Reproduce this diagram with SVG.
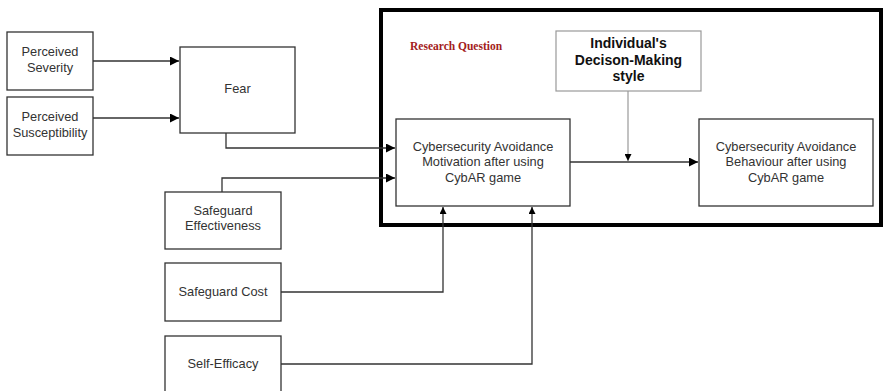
<svg xmlns="http://www.w3.org/2000/svg" width="884" height="391" viewBox="0 0 884 391">
  <style>
    .box { fill: #fff; stroke: #333; stroke-width: 1.3; }
    .gbox { fill: #fff; stroke: #999; stroke-width: 1.2; }
    .frame { fill: none; stroke: #000; stroke-width: 4; }
    .lbl { font-family: "Liberation Sans", Arial, sans-serif; font-size: 12.8px; fill: #333; text-anchor: middle; }
    .bold { font-family: "Liberation Sans", Arial, sans-serif; font-size: 14px; font-weight: bold; fill: #111; text-anchor: middle; }
    .rq { font-family: "Liberation Serif", "Times New Roman", serif; font-size: 11.5px; font-weight: bold; fill: #a32020; }
    .link { fill: none; stroke: #333; stroke-width: 1.3; }
    .glink { fill: none; stroke: #999; stroke-width: 1.2; }
  </style>
  <defs>
    <marker id="arrow" viewBox="0 0 10 10" refX="10" refY="5" markerWidth="12" markerHeight="9" markerUnits="userSpaceOnUse" orient="auto">
      <path d="M0,0 L10,5 L0,10 z" fill="#000"/>
    </marker>
    <marker id="arrowSmall" viewBox="0 0 10 10" refX="10" refY="5" markerWidth="9" markerHeight="7" markerUnits="userSpaceOnUse" orient="auto">
      <path d="M0,0 L10,5 L0,10 z" fill="#000"/>
    </marker>
  </defs>

  <rect width="884" height="391" fill="#fff"/>

  <!-- research question frame -->
  <g id="research-frame">
    <rect class="frame" x="381" y="10" width="500" height="215"/>
    <text class="rq" x="410" y="50">Research Question</text>
  </g>

  <g id="perceived-severity">
    <rect class="box" x="7" y="32" width="86" height="58"/>
    <text class="lbl" x="50" y="56">Perceived</text>
    <text class="lbl" x="50" y="72">Severity</text>
  </g>

  <g id="perceived-susceptibility">
    <rect class="box" x="7" y="97" width="86" height="58"/>
    <text class="lbl" x="50" y="121">Perceived</text>
    <text class="lbl" x="50" y="137">Susceptibility</text>
  </g>

  <g id="fear">
    <rect class="box" x="180" y="47" width="115" height="86"/>
    <text class="lbl" x="237.5" y="93">Fear</text>
  </g>

  <g id="safeguard-effectiveness">
    <rect class="box" x="165" y="192" width="116" height="57"/>
    <text class="lbl" x="223" y="215">Safeguard</text>
    <text class="lbl" x="223" y="230">Effectiveness</text>
  </g>

  <g id="safeguard-cost">
    <rect class="box" x="165" y="263" width="116" height="58"/>
    <text class="lbl" x="223" y="296">Safeguard Cost</text>
  </g>

  <g id="self-efficacy">
    <rect class="box" x="165" y="336" width="116" height="60"/>
    <text class="lbl" x="223" y="368">Self-Efficacy</text>
  </g>

  <g id="decision-style">
    <rect class="gbox" x="556" y="31" width="145" height="60"/>
    <text class="bold" x="628.5" y="48">Individual's</text>
    <text class="bold" x="628.5" y="65">Decison-Making</text>
    <text class="bold" x="628.5" y="81">style</text>
  </g>

  <g id="avoidance-motivation">
    <rect class="box" x="396" y="119" width="174" height="87"/>
    <text class="lbl" x="483" y="151">Cybersecurity Avoidance</text>
    <text class="lbl" x="483" y="166">Motivation after using</text>
    <text class="lbl" x="483" y="182">CybAR game</text>
  </g>

  <g id="avoidance-behaviour">
    <rect class="box" x="699" y="119" width="174" height="87"/>
    <text class="lbl" x="786" y="151">Cybersecurity Avoidance</text>
    <text class="lbl" x="786" y="166">Behaviour after using</text>
    <text class="lbl" x="786" y="182">CybAR game</text>
  </g>

  <g id="connectors">
    <path class="link" d="M93,61 H179" marker-end="url(#arrow)"/>
    <path class="link" d="M93,118 H179" marker-end="url(#arrow)"/>
    <path class="link" d="M226,133 V148 H395" marker-end="url(#arrow)"/>
    <path class="link" d="M222,192 V178 H395" marker-end="url(#arrow)"/>
    <path class="link" d="M281,292 H443 V207" marker-end="url(#arrowSmall)"/>
    <path class="link" d="M281,364 H532 V207" marker-end="url(#arrowSmall)"/>
    <path class="link" d="M570,162 H698" marker-end="url(#arrow)"/>
    <path class="glink" d="M628,91 V161" marker-end="url(#arrowSmall)"/>
  </g>
</svg>
